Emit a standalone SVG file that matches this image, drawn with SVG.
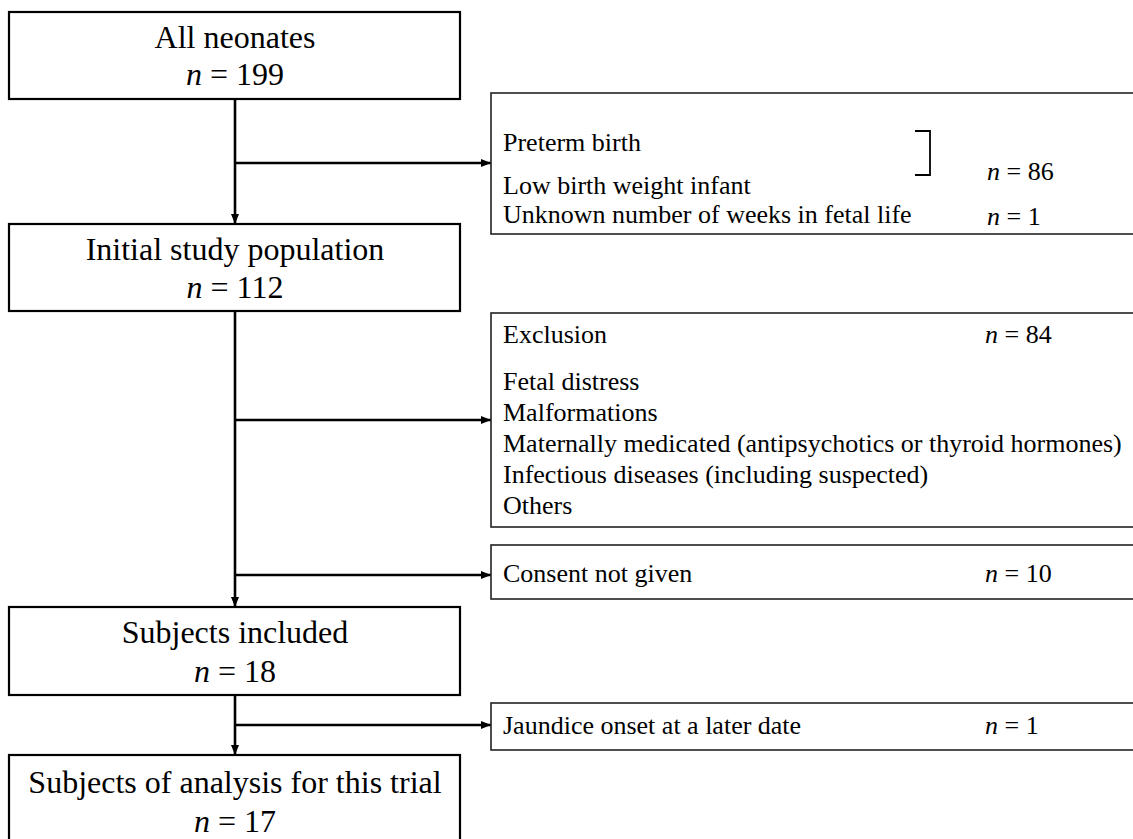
<svg xmlns="http://www.w3.org/2000/svg" width="1133" height="839" viewBox="0 0 1133 839">
<style>
.main{fill:#fff;stroke:#000;stroke-width:2.2}
.side{fill:#fff;stroke:#222;stroke-width:1.6}
.t{font-family:"Liberation Serif","Times New Roman",serif;fill:#000}
.big{font-size:32px;text-anchor:middle}
.sm{font-size:26px}
.flow{stroke:#000;stroke-width:2.6;fill:none}
.it{font-style:italic}
</style>
<defs>
<marker id="ah" viewBox="0 0 10 10" refX="10" refY="5" markerWidth="10" markerHeight="10" markerUnits="userSpaceOnUse" orient="auto">
<path d="M0,1 L10,5 L0,9 Z" fill="#000"/>
</marker>
</defs>
<rect width="1133" height="839" fill="#fff"/>
<g id="connectors">
<line class="flow" x1="235" y1="99" x2="235" y2="224" marker-end="url(#ah)"/>
<line class="flow" x1="235" y1="163" x2="491" y2="163" marker-end="url(#ah)"/>
<line class="flow" x1="235" y1="311" x2="235" y2="607" marker-end="url(#ah)"/>
<line class="flow" x1="235" y1="420" x2="491" y2="420" marker-end="url(#ah)"/>
<line class="flow" x1="235" y1="575" x2="491" y2="575" marker-end="url(#ah)"/>
<line class="flow" x1="235" y1="695" x2="235" y2="755" marker-end="url(#ah)"/>
<line class="flow" x1="235" y1="725" x2="491" y2="725" marker-end="url(#ah)"/>
</g>
<g id="n1">
<rect class="main" x="9" y="12" width="451" height="87"/>
<text class="t big" x="235" y="48">All neonates</text>
<text class="t big" x="235" y="85"><tspan class="it">n</tspan> = 199</text>
</g>
<g id="n2">
<rect class="main" x="9" y="224" width="451" height="87"/>
<text class="t big" x="235" y="260">Initial study population</text>
<text class="t big" x="235" y="298"><tspan class="it">n</tspan> = 112</text>
</g>
<g id="n3">
<rect class="main" x="9" y="607" width="451" height="88"/>
<text class="t big" x="235" y="643">Subjects included</text>
<text class="t big" x="235" y="682"><tspan class="it">n</tspan> = 18</text>
</g>
<g id="n4">
<rect class="main" x="9" y="755" width="451" height="95"/>
<text class="t big" x="235" y="793">Subjects of analysis for this trial</text>
<text class="t big" x="235" y="832"><tspan class="it">n</tspan> = 17</text>
</g>
<g id="exA">
<rect class="side" x="491" y="93" width="650" height="141"/>
<text class="t sm" x="503" y="151">Preterm birth</text>
<text class="t sm" x="503" y="194">Low birth weight infant</text>
<path d="M915,131 H930 V175 H915" fill="none" stroke="#000" stroke-width="1.8"/>
<text class="t sm" x="987" y="180"><tspan class="it">n</tspan> = 86</text>
<text class="t sm" x="503" y="223">Unknown number of weeks in fetal life</text>
<text class="t sm" x="987" y="225"><tspan class="it">n</tspan> = 1</text>
</g>
<g id="exB">
<rect class="side" x="491" y="313" width="650" height="214"/>
<text class="t sm" x="503" y="343">Exclusion</text>
<text class="t sm" x="985" y="343"><tspan class="it">n</tspan> = 84</text>
<text class="t sm" x="503" y="390">Fetal distress</text>
<text class="t sm" x="503" y="421">Malformations</text>
<text class="t sm" x="503" y="452">Maternally medicated (antipsychotics or thyroid hormones)</text>
<text class="t sm" x="503" y="483">Infectious diseases (including suspected)</text>
<text class="t sm" x="503" y="514">Others</text>
</g>
<g id="exC">
<rect class="side" x="491" y="545" width="650" height="54"/>
<text class="t sm" x="503" y="582">Consent not given</text>
<text class="t sm" x="985" y="582"><tspan class="it">n</tspan> = 10</text>
</g>
<g id="exD">
<rect class="side" x="491" y="703" width="650" height="47"/>
<text class="t sm" x="503" y="734">Jaundice onset at a later date</text>
<text class="t sm" x="985" y="734"><tspan class="it">n</tspan> = 1</text>
</g>
</svg>
